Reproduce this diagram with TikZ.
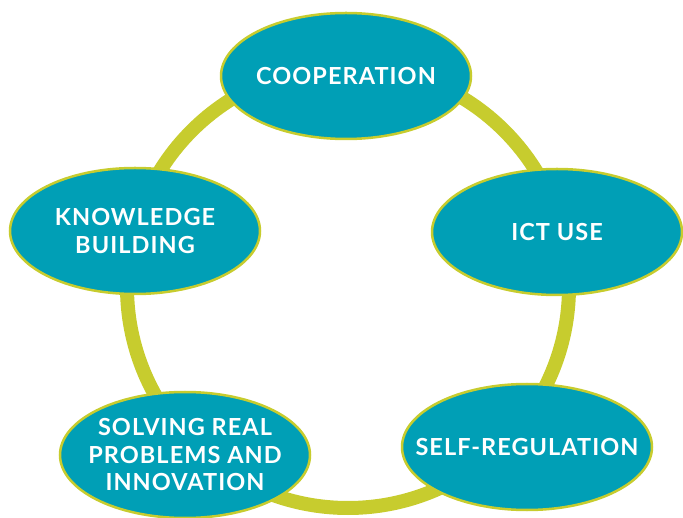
\documentclass[tikz,border=0pt]{standalone}
\usepackage{fontspec}
\setmainfont{Lato}[LetterSpace=4.5]
\usetikzlibrary{shapes.geometric}
\definecolor{teal}{RGB}{0,159,182}
\definecolor{lime}{RGB}{199,204,46}
\tikzset{
  topic/.style={ellipse,fill=teal,draw=lime,line width=2.5pt,minimum width=250pt,minimum height=126pt,inner xsep=-50pt,inner ysep=0pt,text=white,align=center,font=\fontsize{23.5}{27.5}\selectfont\bfseries},
  ring/.style={draw=lime,line width=14pt}
}
\begin{document}
\begin{tikzpicture}[x=1pt,y=-1pt]
\useasboundingbox (0,0) rectangle (683,518);
\coordinate(centre) at (348,287);
\draw[ring] (centre) circle[radius=221pt];
\node[topic](coop) at (346,76){COOPERATION};
\node[topic](ict) at (557,232){ICT USE};
\node[topic](selfreg) at (527,447){SELF-REGULATION};
\node[topic](solving) at (185,455){SOLVING REAL\\PROBLEMS AND\\INNOVATION};
\node[topic](knowledge) at (135,231){KNOWLEDGE\\BUILDING};
\end{tikzpicture}
\end{document}
